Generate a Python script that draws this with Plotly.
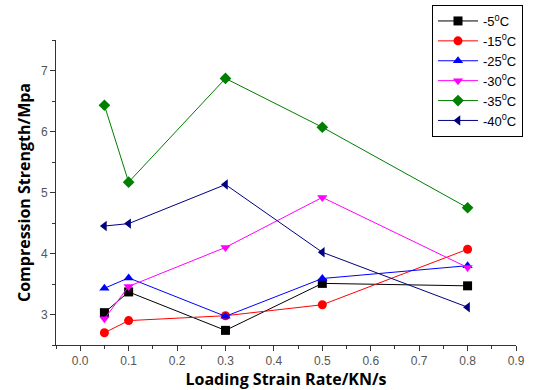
import plotly.graph_objects as go

rates = [0.05, 0.1, 0.3, 0.5, 0.8]
s_m5 = [3.03, 3.37, 2.74, 3.51, 3.47]
s_m15 = [2.70, 2.90, 2.98, 3.16, 4.07]
s_m25 = [3.43, 3.60, 2.97, 3.59, 3.80]
s_m30 = [2.93, 3.46, 4.10, 4.92, 3.77]
s_m35 = [6.43, 5.17, 6.87, 6.07, 4.75]
s_m40 = [4.45, 4.49, 5.13, 4.02, 3.12]
names = ["-5<sup>0</sup>C", "-15<sup>0</sup>C", "-25<sup>0</sup>C",
         "-30<sup>0</sup>C", "-35<sup>0</sup>C", "-40<sup>0</sup>C"]
series = [s_m5, s_m15, s_m25, s_m30, s_m35, s_m40]
colors = ["#000000", "#ff0000", "#0000ff", "#ff00ff", "#008000", "#000080"]
symbols = ["square", "circle", "triangle-up", "triangle-down", "diamond", "triangle-left"]

fig = go.Figure()
for n, s, c, sym in zip(names, series, colors, symbols):
    fig.add_trace(go.Scatter(
        x=rates, y=s, name=n, mode="lines+markers",
        line=dict(color=c, width=1),
        marker=dict(color=c, symbol=sym, size=9, line=dict(width=0)),
    ))

axis_common = dict(
    showline=True, linecolor="#333", linewidth=1, ticks="outside", ticklen=5,
    tickcolor="#333", showgrid=False, zeroline=False, mirror=False, automargin=False,
    tickfont=dict(family="Arial", size=12, color="#555"),
)
fig.update_xaxes(range=[-0.05, 0.9], tick0=0, dtick=0.1, tickformat=".1f",
                 minor=dict(ticks="outside", ticklen=3, dtick=0.05, tick0=0, tickcolor="#333"),
                 title=dict(text="<b>Loading Strain Rate/KN/s</b>", standoff=4,
                            font=dict(family="Open Sans", size=16, color="#000")),
                 **axis_common)
fig.update_yaxes(range=[2.5, 7.5], tick0=3, dtick=1,
                 minor=dict(ticks="outside", ticklen=3, dtick=0.5, tick0=3, tickcolor="#333"),
                 title=dict(text="<b>Compression Strength/Mpa</b>", standoff=6,
                            font=dict(family="Open Sans", size=16, color="#000")),
                 **axis_common)
fig.update_layout(
    width=541, height=390, plot_bgcolor="white", paper_bgcolor="white",
    margin=dict(l=56, r=25, t=40, b=45, autoexpand=False),
    legend=dict(xref="container", yref="container", x=432 / 541, y=1 - 5 / 390,
                xanchor="left", yanchor="top",
                bordercolor="#000", borderwidth=1, bgcolor="white",
                font=dict(family="Arial", size=13, color="#000"),
                tracegroupgap=0, itemwidth=40),
)
fig.write_html("out.html", config={"displayModeBar": False},
               post_script="document.body.style.margin='0px';")
